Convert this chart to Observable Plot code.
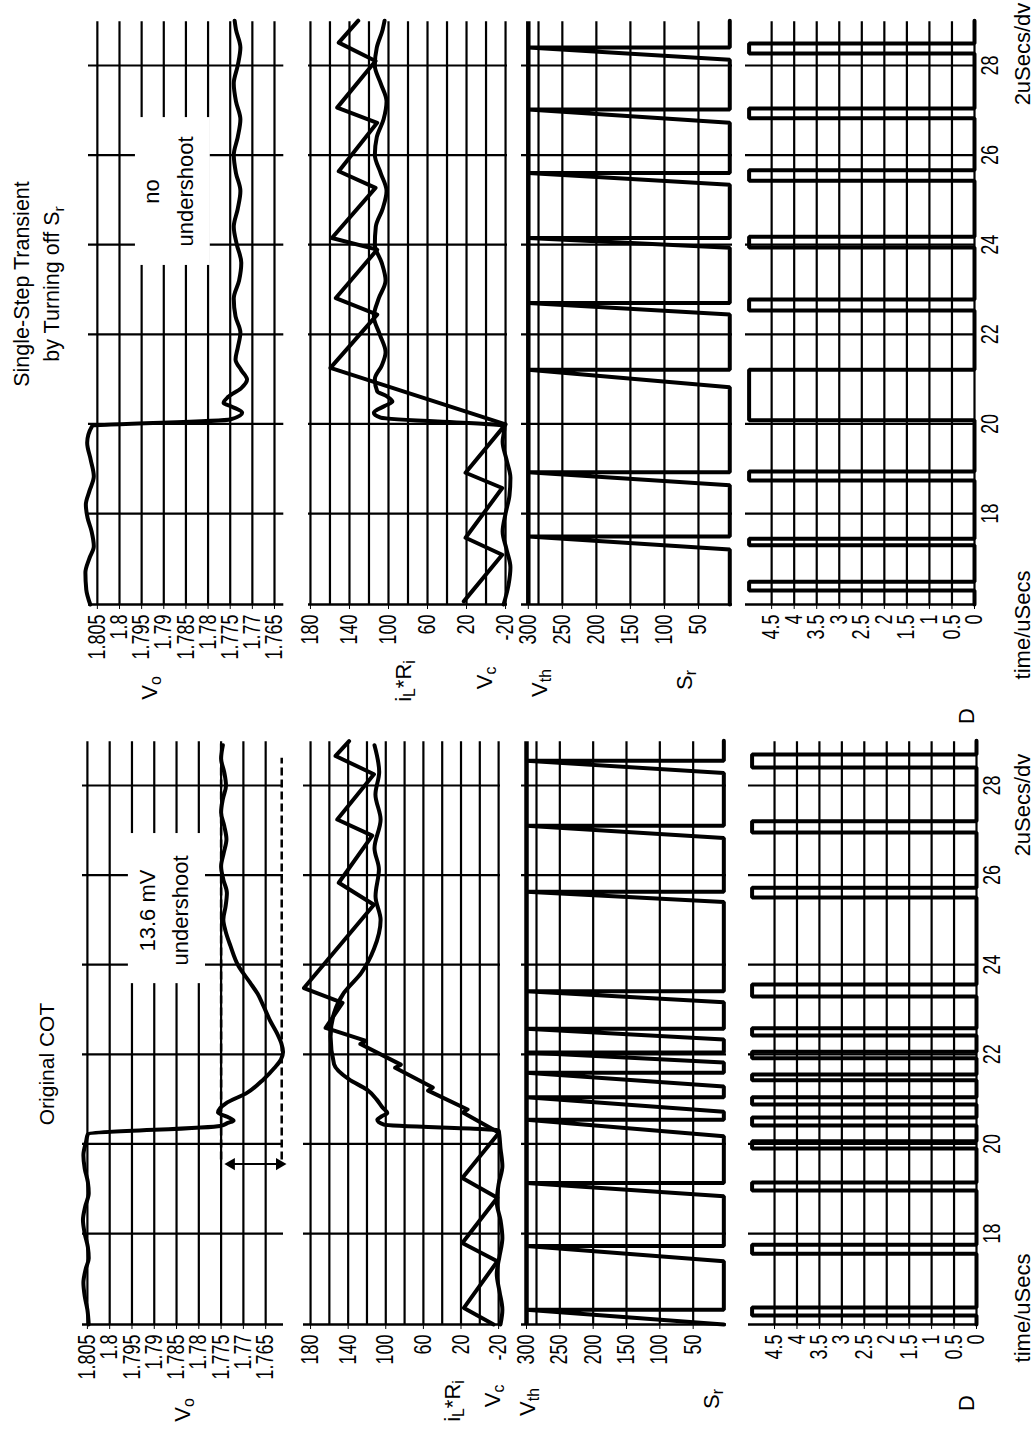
<!DOCTYPE html>
<html>
<head>
<meta charset="utf-8">
<script src="https://cdn.jsdelivr.net/npm/d3@7"></script>
<script src="https://cdn.jsdelivr.net/npm/@observablehq/plot@0.6"></script>
<style>
html, body { margin:0; padding:0; background:#fff; }
#page { position:relative; width:1036px; height:1431px; overflow:hidden; background:#fff; }
#fig { position:absolute; left:0; top:0; width:1431px; height:1036px; transform-origin:0 0;
       transform:translate(0px,1431px) rotate(-90deg);
       font-family:"Liberation Sans", Arial, Helvetica, sans-serif; color:#000; }
#fig svg { position:absolute; overflow:visible; }
.lbl { position:absolute; white-space:nowrap; line-height:1; transform:translate(-50%,-50%); font-size:22px; }
.lbl sub { font-size:72%; vertical-align:-0.28em; line-height:0; }
</style>
</head>
<body>
<div id="page"><div id="fig"></div></div>
<script>
// ---------------- axes / ticks ----------------
const timeTicks = [18, 20, 22, 24, 26, 28];
const timeDomain = [15.97, 29.0];
const voTicks = [1.805, 1.8, 1.795, 1.79, 1.785, 1.78, 1.775, 1.77, 1.765];
const ilGrid = [-20, 0, 20, 40, 60, 80, 100, 120, 140, 160, 180];
const ilTicks = [180, 140, 100, 60, 20, -20];
const vthGrid = [285, 250, 200, 150, 100, 50];
const vthTicks = [300, 250, 200, 150, 100, 50];
const vthTop = [300];
const dTicks = [4.5, 4, 3.5, 3, 2.5, 2, 1.5, 1, 0.5, 0];
const vthLevels = [4, 300];
const dLevels = [0, 5];

// ---------------- Original COT ----------------
const voCOT = [[15.97,1.8047],[16.3,1.8050],[16.6,1.8056],[16.9,1.8059],[17.2,1.8054],[17.45,1.8047],[17.7,1.8049],
 [18.0,1.8056],[18.3,1.8060],[18.6,1.8055],[18.9,1.8047],[19.15,1.8049],[19.45,1.8056],[19.75,1.8059],[20.05,1.8053],
 [20.22,1.8049],[20.40,1.7752],[20.47,1.7735],[20.52,1.7722],[20.60,1.7735],[20.70,1.7757],[20.80,1.7752],[20.90,1.7740],
 [21.14,1.7692],[21.44,1.7655],[21.70,1.7630],[21.88,1.7616],[22.05,1.7611],[22.25,1.7615],[22.48,1.7625],[22.75,1.7640],
 [23.08,1.7655],[23.35,1.7668],[23.6,1.7685],[23.97,1.7711],[24.42,1.7729],[24.75,1.7740],[25.01,1.7745],[25.3,1.7740],
 [25.6,1.7737],[25.9,1.7745],[26.2,1.7750],[26.5,1.7744],[26.8,1.7738],[27.1,1.7743],[27.4,1.7750],[27.7,1.7746],
 [28.0,1.7739],[28.3,1.7743],[28.6,1.7750],[28.9,1.7746]];
const dashCOT = [{v:1.775, t1:19.65, t2:28.95}, {v:1.7614, t1:19.65, t2:28.62}];
const arrowCOT = [{t:19.55, v1:1.7729, v2:1.7617}];
const arrowHeadsCOT = [{t:19.55, v:1.7727, dir:0}, {t:19.55, v:1.7619, dir:180}];
const boxCOT = [{t1:23.6, t2:26.95, v1:1.7785, v2:1.7958}];
const noteCOT = [{t:25.21, v:1.7915, text:"13.6 mV"}, {t:25.21, v:1.7841, text:"undershoot"}];
const ilCOT = [[15.97,-14.7],[16.34,16.9],[17.38,-18.6],[17.79,18.6],[18.80,-18.6],[19.24,18.6],[20.25,-20.4],
 [20.70,18],[20.77,13],[21.19,55],[21.26,50],[21.70,90],[21.77,84],[22.23,127],[22.30,121],[22.59,164],[23.15,146],
 [23.48,187],[25.34,112.6],[25.83,150],[26.88,114.4],[27.24,151.6],[28.25,112.6],[28.66,153.4],[28.99,139]];
const vcCOT = [[15.97,-22],[16.3,-24],[16.7,-21],[17.1,-18],[17.5,-21],[17.9,-24],[18.3,-22],[18.7,-18],[19.1,-20],
 [19.5,-24],[19.9,-22],[20.3,-20],[20.43,102],[20.54,109],[20.62,104],[20.69,98.4],[20.8,103],[21.0,110],[21.21,120],
 [21.44,139],[21.78,155],[22.4,158.7],[22.92,155],[23.37,144.6],[23.82,126],[24.35,112.6],[25.0,105.5],[25.53,110.9],
 [26.13,107.3],[26.6,112],[27.24,105.5],[27.8,111],[28.3,107],[28.9,112]];
const rampsCOT = [[15.97,16.30],[17.38,17.72],[18.83,19.13],[20.17,20.54],[20.72,21.04],[21.28,21.59],[21.82,22.04],
 [22.33,22.57],[23.16,23.41],[25.40,25.63],[26.83,27.10],[28.28,28.55]];
const pulsesCOT = [[16.17,16.35],[17.55,17.75],[18.96,19.14],[19.90,20.06],[20.41,20.59],[20.88,21.04],[21.42,21.55],
 [21.91,22.06],[22.42,22.58],[23.29,23.56],[25.50,25.72],[26.95,27.20],[28.40,28.69]];

// ---------------- Single-step transient ----------------
const voSS = [[15.97,1.8066],[16.3,1.8075],[16.68,1.8077],[17.0,1.8068],[17.27,1.8058],[17.6,1.8063],[17.9,1.8072],
 [18.2,1.8076],[18.5,1.8068],[18.83,1.8058],[19.2,1.8065],[19.58,1.8073],[19.95,1.8062],[20.10,1.7750],[20.25,1.7723],
 [20.38,1.7745],[20.47,1.7765],[20.6,1.7755],[20.8,1.7725],[20.99,1.7712],[21.2,1.7725],[21.44,1.7738],[21.7,1.7733],
 [22.04,1.7727],[22.4,1.7738],[22.8,1.7742],[23.2,1.7730],[23.6,1.7725],[24.0,1.7735],[24.4,1.7742],[24.8,1.7733],
 [25.2,1.7727],[25.6,1.7737],[26.0,1.7742],[26.4,1.7733],[26.8,1.7727],[27.2,1.7737],[27.6,1.7742],[28.0,1.7733],
 [28.4,1.7727],[28.8,1.7737],[29.0,1.7740]];
const boxSS = [{t1:23.56, t2:26.86, v1:1.7795, v2:1.7964}];
const noteSS = [{t:25.19, v:1.7926, text:"no"}, {t:25.19, v:1.7851, text:"undershoot"}];
const ilSS = [[16.04,22.8],[17.08,-16.6],[17.46,21],[18.57,-16.6],[18.91,21],[19.99,-20],[21.25,159.5],[22.44,111.6],
 [22.81,154],[23.89,111.6],[24.15,158],[25.27,113.3],[25.64,151],[26.72,111.6],[27.06,152.6],[28.10,113.3],
 [28.51,151],[29.0,131]];
const vcSS = [[15.97,-18],[16.4,-23],[16.8,-25],[17.2,-21],[17.6,-17],[18.0,-20],[18.4,-24],[18.8,-25],[19.2,-21],
 [19.6,-17],[19.95,-19],[20.14,108],[20.25,115],[20.4,104],[20.5,96],[20.62,102],[20.73,111.6],[21.0,114],[21.3,107],
 [21.6,103],[22.0,109],[22.4,115],[22.8,110],[23.2,103],[23.6,107],[24.0,114],[24.4,113],[24.8,106],[25.2,102],
 [25.6,108],[26.0,114],[26.4,112],[26.8,105],[27.2,102],[27.6,108],[28.0,114],[28.4,112],[28.8,106],[29.0,104]];
const rampsSS = [[17.20,17.49],[18.63,18.92],[20.82,21.21],[22.44,22.70],[23.93,24.15],[25.34,25.60],[26.72,27.02],
 [28.13,28.40]];
const pulsesSS = [[16.28,16.48],[17.29,17.44],[18.74,18.94],[20.08,21.21],[22.53,22.78],[23.94,24.18],[25.43,25.66],
 [26.82,27.04],[28.27,28.49]];

// ---------------- layout (positions in the unrotated figure) ----------------
const layoutCOT = { left:0, width:710, ml:106, mr:20.2,
  vo:{top:82, bottom:283, domain:[1.761,1.8061]},
  il:{top:303, bottom:500, domain:[-22,187.5]},
  vth:{top:521, bottom:726, domain:[0,307.5]},
  d:{top:748, bottom:976, domain:[0,5.08]} };
const layoutSS = { left:720, width:711, ml:106, mr:21.2,
  vo:{top:88, bottom:283.3, domain:[1.7629,1.807]},
  il:{top:308, bottom:507, domain:[-22,182]},
  vth:{top:521, bottom:732, domain:[0,310]},
  d:{top:745, bottom:974, domain:[0,5.08]} };

const fig = document.getElementById("fig");
const T = d => d[0], V = d => d[1];
const GRID = {stroke:"#000", strokeWidth:2.2};
const CURVE = {x:T, y:V, stroke:"#000", strokeWidth:4, curve:"monotone-x"};
const STEP = {x:"t", y:"v", stroke:"#000", strokeWidth:4, strokeLinejoin:"miter"};

function pulseLine(pulses, lv) {
  const pts = [{t:timeDomain[0], v:lv[0]}];
  for (const [a,b] of pulses) pts.push({t:a,v:lv[0]},{t:a,v:lv[1]},{t:b,v:lv[1]},{t:b,v:lv[0]});
  pts.push({t:timeDomain[1], v:lv[0]});
  return pts;
}
function rampLine(ramps, lv) {
  const pts = [{t:timeDomain[0], v:lv[0]}];
  for (const [a,b] of ramps) pts.push({t:a,v:lv[0]},{t:b,v:lv[1]},{t:b,v:lv[0]});
  pts.push({t:timeDomain[1], v:lv[0]});
  return pts;
}
const fmt3 = d => String(+d.toFixed(3));

function panel(L, P, opts) {
  const mt = 20, mb = opts.xAxis ? 50 : 20;
  const svg = Plot.plot({
    width: L.width, height: (P.bottom - P.top) + mt + mb,
    marginLeft: L.ml, marginRight: L.mr, marginTop: mt, marginBottom: mb,
    style: {fontFamily:'"Liberation Sans", Arial, sans-serif', fontSize:"18px", color:"#000", background:"none", overflow:"visible"},
    x: {domain: timeDomain, ticks: timeTicks, tickSize: 0, tickPadding: 7, tickFormat: d => String(d), label: null, axis: opts.xAxis ? "bottom" : null},
    y: {domain: P.domain, ticks: opts.ticks, tickSize: 4, tickPadding: 6, tickFormat: opts.fmt || (d => String(d)), label: null},
    marks: [
      Plot.ruleX(timeTicks, GRID),
      Plot.ruleY(opts.grid, GRID),
      Plot.ruleX([timeDomain[0]], {stroke:"#000", strokeWidth:2.5}),
      ...opts.marks
    ]
  });
  svg.style.left = L.left + "px";
  svg.style.top = (P.top - mt) + "px";
  svg.querySelectorAll('[aria-label="y-axis tick label"] text, [aria-label="x-axis tick label"] text').forEach(t => {
    t.setAttribute("transform", (t.getAttribute("transform") || "") + " scale(1,1.32)");
  });
  fig.appendChild(svg);
}

function column(L, d) {
  const voMarks = [];
  if (d.box) {
    voMarks.push(Plot.rect(d.box, {x1:"t1", x2:"t2", y1:"v1", y2:"v2", fill:"#fff"}));
    voMarks.push(Plot.text(d.note, {x:"t", y:"v", text:"text", fontSize:22, fill:"#000"}));
  }
  if (d.dash) voMarks.push(Plot.link(d.dash, {x1:"t1", x2:"t2", y1:"v", y2:"v", stroke:"#000", strokeWidth:2.5, strokeDasharray:"8,4"}));
  if (d.arrow) {
    voMarks.push(Plot.link(d.arrow, {x1:"t", x2:"t", y1:"v1", y2:"v2", stroke:"#000", strokeWidth:2}));
    voMarks.push(Plot.dot(d.heads, {x:"t", y:"v", symbol:"triangle", rotate:"dir", r:4.5, fill:"#000", stroke:"none"}));
  }
  voMarks.push(Plot.line(d.vo, CURVE));
  panel(L, L.vo, {ticks: voTicks, grid: voTicks, fmt: fmt3, marks: voMarks});
  panel(L, L.il, {ticks: ilTicks, grid: ilGrid, marks: [
    Plot.line(d.vc, CURVE),
    Plot.line(d.il, {x:T, y:V, stroke:"#000", strokeWidth:4})
  ]});
  panel(L, L.vth, {ticks: vthTicks, grid: vthGrid, marks: [
    Plot.ruleY(vthTop, {stroke:"#000", strokeWidth:4.5}),
    Plot.line(rampLine(d.ramps, vthLevels), STEP)
  ]});
  panel(L, L.d, {ticks: dTicks, grid: dTicks, xAxis: true, marks: [
    Plot.line(pulseLine(d.pulses, dLevels), STEP)
  ]});
}

column(layoutCOT, {vo: voCOT, dash: dashCOT, arrow: arrowCOT, heads: arrowHeadsCOT, box: boxCOT, note: noteCOT,
  il: ilCOT, vc: vcCOT, ramps: rampsCOT, pulses: pulsesCOT});
column(layoutSS, {vo: voSS, box: boxSS, note: noteSS,
  il: ilSS, vc: vcSS, ramps: rampsSS, pulses: pulsesSS});

// ---------------- text labels ----------------
const labels = [
  {x:367, y:46, html:"Original COT", size:21},
  {x:21, y:183, html:"V<sub>o</sub>"},
  {x:30, y:453, html:"i<sub>L</sub>*R<sub>i</sub>"},
  {x:35, y:493, html:"V<sub>c</sub>"},
  {x:29, y:528, html:"V<sub>th</sub>"},
  {x:32, y:712, html:"S<sub>r</sub>"},
  {x:28, y:967, html:"D"},
  {x:123, y:1023, html:"time/uSecs"},
  {x:626, y:1023, html:"2uSecs/dv"},
  {x:1147, y:23, html:"Single-Step Transient", size:21.5},
  {x:1147, y:53, html:"by Turning off S<sub>r</sub>", size:21.5},
  {x:743, y:150, html:"V<sub>o</sub>"},
  {x:750, y:404, html:"i<sub>L</sub>*R<sub>i</sub>"},
  {x:753, y:485, html:"V<sub>c</sub>"},
  {x:748, y:540, html:"V<sub>th</sub>"},
  {x:751, y:685, html:"S<sub>r</sub>"},
  {x:715, y:967, html:"D"},
  {x:806, y:1023, html:"time/uSecs"},
  {x:1377, y:1023, html:"2uSecs/dv"}
];
for (const l of labels) {
  const e = document.createElement("div");
  e.className = "lbl";
  e.style.left = l.x + "px";
  e.style.top = l.y + "px";
  if (l.size) e.style.fontSize = l.size + "px";
  e.innerHTML = l.html;
  fig.appendChild(e);
}
</script>
</body>
</html>
